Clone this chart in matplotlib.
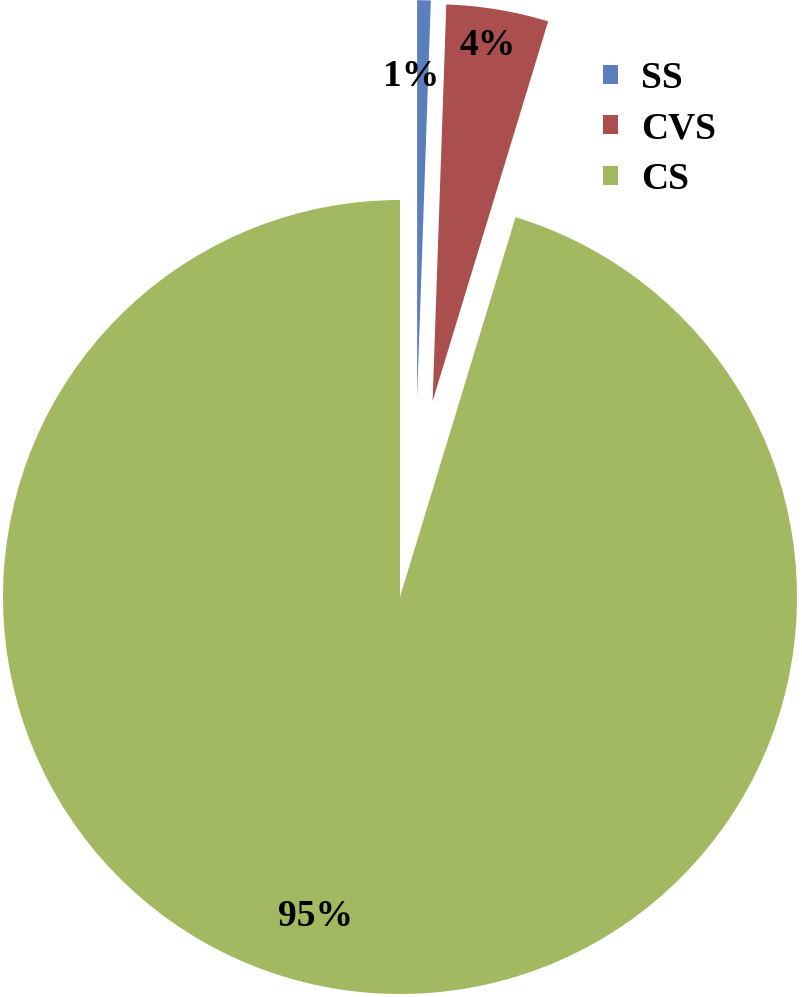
import math

import matplotlib
matplotlib.use("Agg")
import matplotlib.pyplot as plt

# share of each type
categories = ["SS", "CVS", "CS"]
shares = [0.55, 4.15, 95.3]
pct_labels = ["1%", "4%", "95%"]
colors = ["#5B7EBD", "#AA4F4D", "#A2B961"]
explode = [0.5, 0.5, 0.0]

W, H = 802, 997
fig = plt.figure(figsize=(W / 100, H / 100), dpi=100)
ax = fig.add_axes([0, 0, 1, 1])

R = 397.0  # pie radius in pixels
cx, cy = 400.0, 400.0  # pie centre in pixels from bottom-left

wedges, _ = ax.pie(shares, colors=colors, explode=explode, startangle=90,
                   counterclock=False, radius=1.0,
                   wedgeprops=dict(linewidth=0))

# the thin SS slice is pulled out a little further to the right in the original
ang = math.radians(4.9)
wedges[0].set_center((0.505 * math.sin(ang), 0.505 * math.cos(ang)))

ax.set_xlim(-cx / R, (W - cx) / R)
ax.set_ylim(-cy / R, (H - cy) / R)
ax.set_aspect("equal")
ax.axis("off")

# percentage labels
label_pos = [(0.028, 1.312), (0.221, 1.390), (-0.214, -0.804)]
for txt, (x, y) in zip(pct_labels, label_pos):
    ax.text(x, y, txt, ha="center", va="center", fontsize=27,
            fontweight="bold", family="Liberation Serif", color="black")

leg = ax.legend(wedges, categories, loc="upper left",
                bbox_to_anchor=(603 / W, 1 - 61 / H),
                bbox_transform=fig.transFigure, frameon=False,
                prop=dict(family="Liberation Serif", weight="bold", size=27),
                handlelength=0.4, handleheight=0.4, handletextpad=0.62,
                labelspacing=0.41, borderpad=0, borderaxespad=0)

fig.savefig("out.png", dpi=100)
plt.close(fig)
